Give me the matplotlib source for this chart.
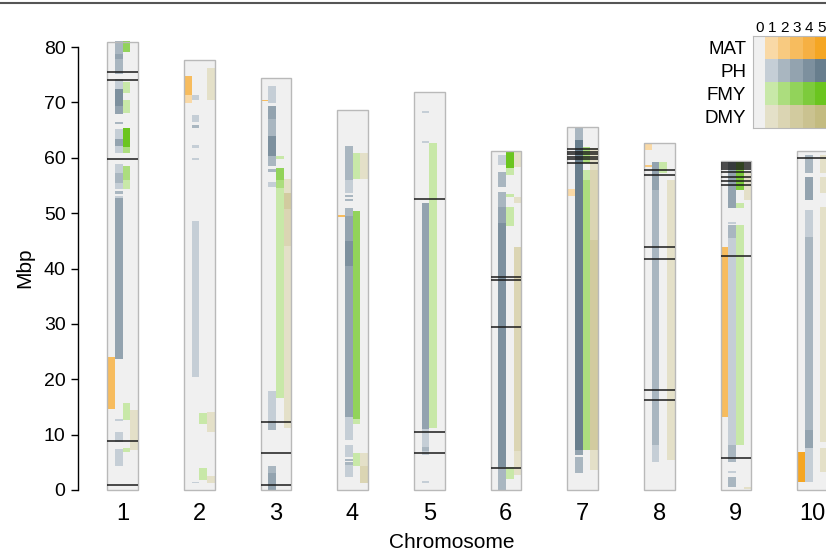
import numpy as np
import matplotlib
matplotlib.use("Agg")
import matplotlib.pyplot as plt
import matplotlib.lines as mlines

plt.rcParams['font.family'] = ['Liberation Sans', 'DejaVu Sans']

# chromosome lengths (Mbp)
chrom_len = [80.9, 77.7, 74.4, 68.7, 71.9, 61.3, 65.5, 62.7, 59.4, 61.2]
traits = ["MAT", "PH", "FMY", "DMY"]

# (chromosome, start, end, level) for each trait
mat_segs = [
    (1, 14.6, 24.0, 3),
    (2, 71.3, 74.8, 3), (2, 69.9, 71.3, 1),
    (3, 70.2, 70.5, 3),
    (4, 49.3, 49.7, 3),
    (7, 53.1, 54.4, 1),
    (8, 61.4, 62.7, 1), (8, 58.4, 58.7, 2),
    (9, 13.2, 43.9, 3),
    (10, 1.4, 6.9, 5),
]

ph_segs = [
    (1, 78.7, 81.0, 2), (1, 77.8, 78.7, 3), (1, 75.1, 77.8, 2),
    (1, 72.4, 74.2, 1), (1, 69.3, 72.4, 4), (1, 67.9, 69.3, 3),
    (1, 66.1, 66.5, 2), (1, 63.4, 65.2, 1), (1, 62.1, 63.4, 3), (1, 60.9, 62.1, 1),
    (1, 57.2, 58.9, 1), (1, 55.4, 57.2, 2), (1, 54.4, 55.4, 1),
    (1, 53.5, 54.0, 2), (1, 52.7, 53.1, 1), (1, 23.7, 52.7, 3),
    (1, 12.5, 12.8, 1), (1, 8.7, 10.4, 1), (1, 4.3, 7.4, 1),
    (2, 70.4, 71.3, 1), (2, 66.5, 67.7, 1), (2, 65.4, 65.9, 2),
    (2, 61.8, 62.3, 1), (2, 59.6, 59.9, 1), (2, 20.4, 48.6, 1), (2, 1.2, 1.5, 1),
    (3, 69.9, 73.0, 1), (3, 67.0, 69.3, 3), (3, 63.9, 67.0, 2),
    (3, 60.3, 63.9, 4), (3, 58.5, 60.3, 2), (3, 57.5, 57.9, 2),
    (3, 54.7, 55.6, 1), (3, 12.5, 17.9, 1), (3, 10.8, 12.5, 2),
    (3, 3.0, 4.3, 2), (3, 0.0, 3.0, 3),
    (4, 56.0, 62.2, 2), (4, 53.6, 56.0, 1), (4, 53.0, 53.3, 2), (4, 52.2, 52.5, 2),
    (4, 49.5, 51.0, 2), (4, 45.0, 49.5, 3), (4, 40.5, 45.0, 4), (4, 13.2, 40.5, 3),
    (4, 9.0, 13.2, 1), (4, 6.0, 8.1, 1), (4, 5.2, 5.6, 2), (4, 4.6, 5.0, 2),
    (4, 2.3, 4.5, 1),
    (5, 68.1, 68.5, 1), (5, 62.6, 63.0, 1), (5, 11.0, 51.8, 3),
    (5, 7.8, 11.0, 1), (5, 7.0, 7.8, 2), (5, 6.3, 7.0, 1), (5, 1.3, 1.7, 1),
    (6, 58.7, 60.5, 1), (6, 54.7, 57.4, 2), (6, 51.1, 53.8, 2),
    (6, 48.2, 51.1, 3), (6, 4.2, 48.2, 4), (6, 0.0, 4.2, 2),
    (7, 63.2, 65.5, 2), (7, 7.2, 63.2, 5), (7, 6.3, 7.2, 3), (7, 3.1, 6.0, 2),
    (8, 54.2, 59.3, 3), (8, 8.1, 54.2, 2), (8, 5.0, 8.1, 1),
    (9, 50.9, 59.4, 3), (9, 48.0, 48.4, 1), (9, 45.5, 47.8, 2), (9, 8.1, 45.5, 1),
    (9, 5.1, 8.1, 2), (9, 3.1, 3.4, 1), (9, 0.5, 2.3, 2),
    (10, 57.2, 60.5, 2), (10, 52.4, 56.5, 3), (10, 45.7, 50.6, 1),
    (10, 10.8, 45.7, 2), (10, 7.6, 10.8, 3), (10, 1.4, 7.6, 1),
]

fmy_segs = [
    (1, 79.1, 81.0, 3), (1, 71.7, 73.7, 1), (1, 68.0, 70.4, 1), (1, 62.0, 65.4, 5),
    (1, 60.9, 62.0, 2), (1, 56.0, 58.5, 2), (1, 54.3, 56.0, 1), (1, 12.6, 15.7, 1),
    (1, 6.9, 7.6, 1),
    (2, 11.9, 13.9, 1), (2, 1.8, 4.0, 1),
    (3, 59.8, 60.3, 1), (3, 56.0, 58.2, 3), (3, 54.5, 56.0, 2), (3, 16.6, 54.5, 1),
    (4, 56.2, 60.8, 1), (4, 12.8, 50.3, 3), (4, 12.0, 12.8, 1), (4, 4.4, 6.7, 1),
    (5, 11.2, 62.7, 1),
    (6, 58.1, 61.2, 5), (6, 56.9, 58.1, 1), (6, 52.9, 53.5, 1), (6, 47.7, 51.1, 1),
    (6, 2.0, 4.2, 1),
    (7, 59.0, 62.0, 2), (7, 56.0, 57.8, 1), (7, 7.2, 56.0, 2),
    (8, 57.2, 59.3, 1),
    (9, 54.2, 59.4, 4), (9, 50.9, 51.8, 1), (9, 8.1, 47.8, 1),
]

dmy_segs = [
    (1, 7.2, 14.4, 1),
    (2, 70.4, 76.2, 1), (2, 10.5, 14.1, 1), (2, 1.3, 2.5, 1),
    (3, 53.6, 56.2, 1), (3, 50.7, 53.6, 3), (3, 44.0, 50.7, 2), (3, 11.2, 44.0, 1),
    (4, 56.2, 60.8, 1), (4, 4.4, 6.7, 1), (4, 1.3, 4.4, 2),
    (6, 58.3, 61.2, 1), (6, 51.8, 52.9, 1), (6, 7.0, 43.9, 2), (6, 2.7, 7.0, 1),
    (7, 57.8, 61.8, 1), (7, 45.1, 57.8, 2), (7, 7.2, 45.1, 3), (7, 3.6, 7.2, 1),
    (8, 5.4, 56.0, 1),
    (9, 52.4, 57.2, 1), (9, 0.1, 0.6, 1),
    (10, 57.2, 60.5, 1), (10, 53.6, 56.5, 1), (10, 8.7, 51.1, 1), (10, 3.3, 7.6, 1),
]

# QTL peak positions (chromosome, Mbp)
qtl_lines = [
    (1, 75.5), (1, 74.0), (1, 59.8), (1, 8.8), (1, 0.9),
    (3, 12.3), (3, 6.7), (3, 0.9),
    (5, 52.5), (5, 10.5), (5, 6.7),
    (6, 38.4), (6, 37.9), (6, 29.5), (6, 4.0),
    (7, 61.5), (7, 61.1), (7, 60.6), (7, 60.2), (7, 59.8), (7, 59.0),
    (8, 57.8), (8, 56.9), (8, 43.8), (8, 41.8), (8, 18.1), (8, 16.2),
    (9, 59.1), (9, 58.7), (9, 58.3), (9, 57.9), (9, 57.5), (9, 56.6), (9, 55.8),
    (9, 55.1), (9, 42.3), (9, 5.8),
    (10, 59.9),
]

levels = [0, 1, 2, 3, 4, 5]

# colour ramps, index = level
palette = {
    "MAT": ["#f0f0f0", "#f9d9a6", "#f8ca80", "#f7bc5e", "#f6b043", "#f5a623"],
    "PH":  ["#f0f0f0", "#c5ced6", "#a9b6c0", "#93a3af", "#7d909e", "#687e8d"],
    "FMY": ["#f0f0f0", "#c8e8a8", "#acdd7e", "#92d35a", "#7dcb3c", "#6bc51f"],
    "DMY": ["#f0f0f0", "#e4e0c8", "#dbd5b3", "#d2cb9f", "#cac290", "#c3bb80"],
}

W, H = 826, 554
fig = plt.figure(figsize=(W / 100, H / 100), dpi=100)
ax = fig.add_axes([78 / W, 1 - 495 / H, 1 - 78 / W, 485 / H])

box_w = 0.4
col_w = box_w / 4

for i, L in enumerate(chrom_len):
    c = i + 1
    ax.bar(c, L, width=box_w, bottom=0, color="#f0f0f0", zorder=1, linewidth=0)
    ax.bar(c, L, width=box_w, bottom=0, facecolor="none", edgecolor="#b9b9b9",
           linewidth=1.0, zorder=4)

for k, (name, segs) in enumerate(zip(traits, [mat_segs, ph_segs, fmy_segs, dmy_segs])):
    for c, s, e, lev in segs:
        x = c - box_w / 2 + col_w * (k + 0.5)
        ax.bar(x, e - s, width=col_w, bottom=s, color=palette[name][lev],
               linewidth=0, zorder=2)

for c, pos in qtl_lines:
    ax.hlines(pos, c - box_w / 2, c + box_w / 2, color="#1a1a1a", linewidth=1.1,
              zorder=5)

ax.set_xlim(1 - 44.5 / 76.67, 1 + (826 - 122.5) / 76.67)
ax.set_ylim(-5 / 5.5375, 480 / 5.5375)

for sp in ["top", "right", "bottom"]:
    ax.spines[sp].set_visible(False)
ax.spines["left"].set_bounds(0, 80)
ax.spines["left"].set_linewidth(1.0)
ax.set_yticks(np.arange(0, 81, 10))
ax.tick_params(axis="y", labelsize=14, length=5, width=1.0, pad=4)
ax.set_xticks(range(1, 11))
ax.set_xticklabels([str(c) for c in range(1, 11)])
ax.tick_params(axis="x", labelsize=17, length=0, pad=6)

fig.text(25 / W, 1 - 268 / H, "Mbp", rotation=90, ha="center", va="center",
         fontsize=15)
fig.text(452 / W, 1 - 543 / H, "Chromosome", ha="center", va="center",
         fontsize=15)

# colour key
lax = fig.add_axes([753 / W, 1 - 128 / H, 6 * 12.5 / W, 92 / H])
rgb = np.array([[matplotlib.colors.to_rgb(palette[t][l]) for l in levels]
                for t in traits])
lax.imshow(rgb, aspect="auto", interpolation="nearest")
lax.set_xticks(range(len(levels)))
lax.set_xticklabels([str(l) for l in levels])
lax.set_yticks(range(len(traits)))
lax.set_yticklabels(traits)
lax.xaxis.tick_top()
lax.tick_params(axis="x", length=0, labelsize=11, pad=1)
lax.tick_params(axis="y", length=0, labelsize=13.5, pad=5)
for sp in lax.spines.values():
    sp.set_edgecolor("#b9b9b9")

# frame line along the top edge
fig.add_artist(mlines.Line2D([0, 1], [1 - 3 / H, 1 - 3 / H], color="#555555",
                             linewidth=1.5))

fig.savefig("out.png", dpi=100)
